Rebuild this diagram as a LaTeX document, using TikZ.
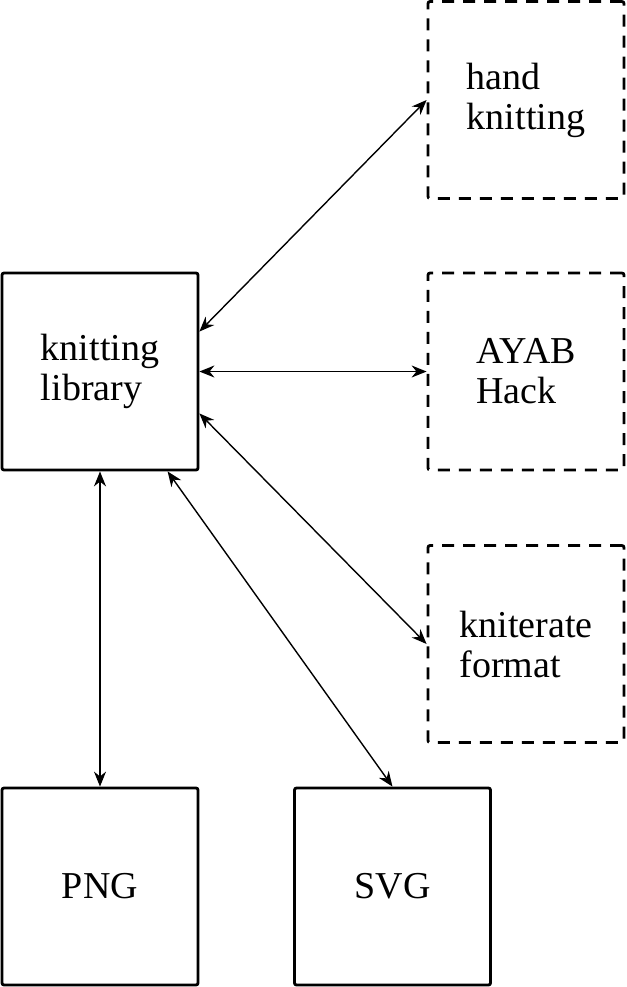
\documentclass[tikz,border=0pt]{standalone}
\usepackage{fontspec}
\setmainfont{Liberation Serif}
\usetikzlibrary{arrows.meta,calc}

\tikzset{
  solidbox/.style={draw, line width=1.4pt, rounded corners=1pt, minimum width=98pt, minimum height=98.5pt, inner sep=0pt, align=left, font=\fontsize{19}{20}\selectfont},
  dashbox/.style={solidbox, dash pattern=on 6pt off 4.5pt},
  link/.style={{Stealth[length=7.5pt,width=6pt]}-{Stealth[length=7.5pt,width=6pt]}, line width=0.7pt}
}

\begin{document}
\begin{tikzpicture}[x=0.5pt,y=-0.5pt]

		\useasboundingbox (0,0) rectangle (627,987);

		%Library
		\node[solidbox] (lib) at (100,371.5) {knitting\\library};

		%Targets
		\node[dashbox] (hand) at (526,100) {hand\\knitting};
		\node[dashbox] (ayab) at (526,371.5) {AYAB\\Hack};
		\node[dashbox] (kniterate) at (526,644) {kniterate\\format};

		%Image formats
		\node[solidbox] (png) at (100,886.5) {PNG};
		\node[solidbox] (svg) at (392.5,886.5) {SVG};

		%Connections
		\draw[link] ($(lib.north east)!0.3!(lib.south east)$) -- (hand.west);
		\draw[link] (lib.east) -- (ayab.west);
		\draw[link] ($(lib.north east)!0.71!(lib.south east)$) -- (kniterate.west);
		\draw[link] (lib.south) -- (png.north);
		\draw[link] ($(lib.south west)!0.84!(lib.south east)$) -- (svg.north);

	\end{tikzpicture}
\end{document}
